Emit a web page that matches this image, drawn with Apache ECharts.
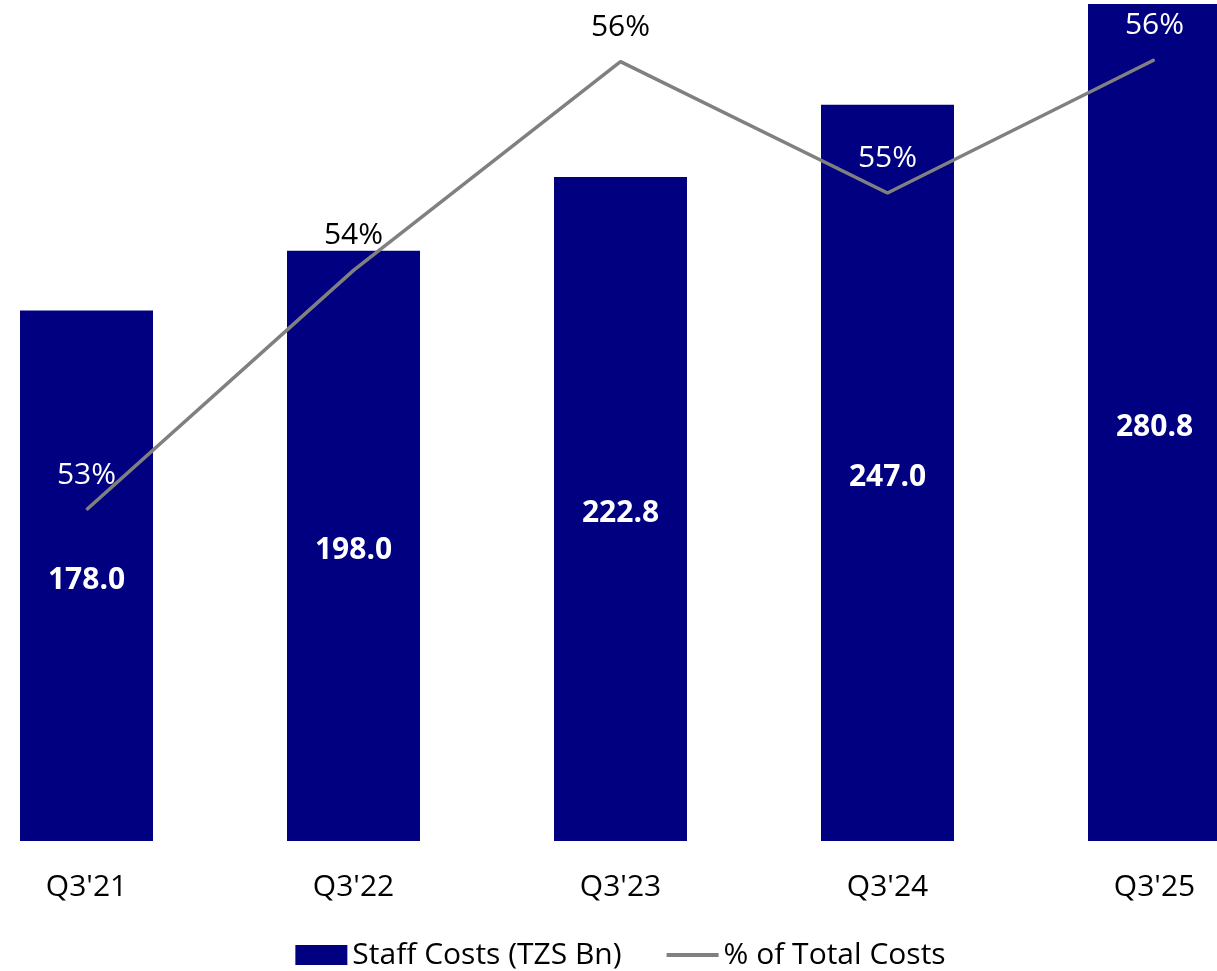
<!DOCTYPE html>
<html>
<head>
<meta charset="utf-8">
<title>Staff Costs</title>
<script src="https://cdn.jsdelivr.net/npm/echarts@6/dist/echarts.min.js"></script>
<style>
  html, body { margin: 0; padding: 0; background: #fff; overflow: hidden; }
  /* plot is wider than the page so the outer bars run off both edges */
  #chart { width: 1335px; height: 971px; margin-left: -47px; }
</style>
</head>
<body>
<div id="chart"></div>
<script>
// Quarterly staff costs and their share of total costs
const categories = ["Q3'21", "Q3'22", "Q3'23", "Q3'24", "Q3'25"];
const staffCosts = [178.0, 198.0, 222.8, 247.0, 280.8];
const shareOfTotal = [53.1, 54.43, 55.59, 54.86, 55.6];
const shareLabelColors = ['#ffffff', '#000000', '#000000', '#ffffff', '#ffffff'];

const FONT = '"Open Sans", "Noto Sans", sans-serif';
const FS = 30;

const chart = echarts.init(document.getElementById('chart'), null, { renderer: 'canvas' });

chart.setOption({
  animation: false,
  textStyle: { fontFamily: FONT },
  grid: { left: 0, right: 0, top: 4, bottom: 130, containLabel: false },
  legend: {
    bottom: -4,
    left: 'center',
    itemWidth: 52,
    itemHeight: 20,
    itemGap: 43,
    textStyle: { fontSize: FS, color: '#000', fontFamily: FONT },
    data: [
      { name: 'Staff Costs (TZS Bn)', icon: 'rect' },
      {
        name: '% of Total Costs',
        itemStyle: { opacity: 0 },
        lineStyle: { width: 4, color: '#808080' }
      }
    ]
  },
  xAxis: {
    type: 'category',
    data: categories,
    axisLine: { show: false },
    axisTick: { show: false },
    axisLabel: { fontSize: FS, color: '#000', margin: 31, fontFamily: FONT }
  },
  yAxis: [
    { type: 'value', min: 0, max: 280.8, show: false, splitLine: { show: false } },
    { type: 'value', min: 51.26, max: 55.91, show: false, splitLine: { show: false } }
  ],
  series: [
    {
      name: 'Staff Costs (TZS Bn)',
      type: 'bar',
      data: staffCosts,
      barWidth: 133,
      itemStyle: { color: '#000080' },
      label: {
        show: true,
        position: 'inside',
        offset: [0, 5],
        color: '#fff',
        fontWeight: 'bold',
        fontSize: FS,
        fontFamily: FONT,
        formatter: p => p.value.toFixed(1)
      },
      z: 2
    },
    {
      name: '% of Total Costs',
      type: 'line',
      yAxisIndex: 1,
      data: shareOfTotal.map((v, i) => ({
        value: v,
        label: { color: shareLabelColors[i] }
      })),
      symbol: 'circle',
      symbolSize: 1,
      showSymbol: true,
      lineStyle: { color: '#808080', width: 3.5 },
      itemStyle: { color: '#808080' },
      label: {
        show: true,
        position: 'top',
        distance: 19,
        fontSize: FS,
        fontFamily: FONT,
        formatter: p => Math.round(p.value) + '%'
      },
      labelLayout: { hideOverlap: false },
      z: 3
    }
  ]
});
</script>
</body>
</html>
